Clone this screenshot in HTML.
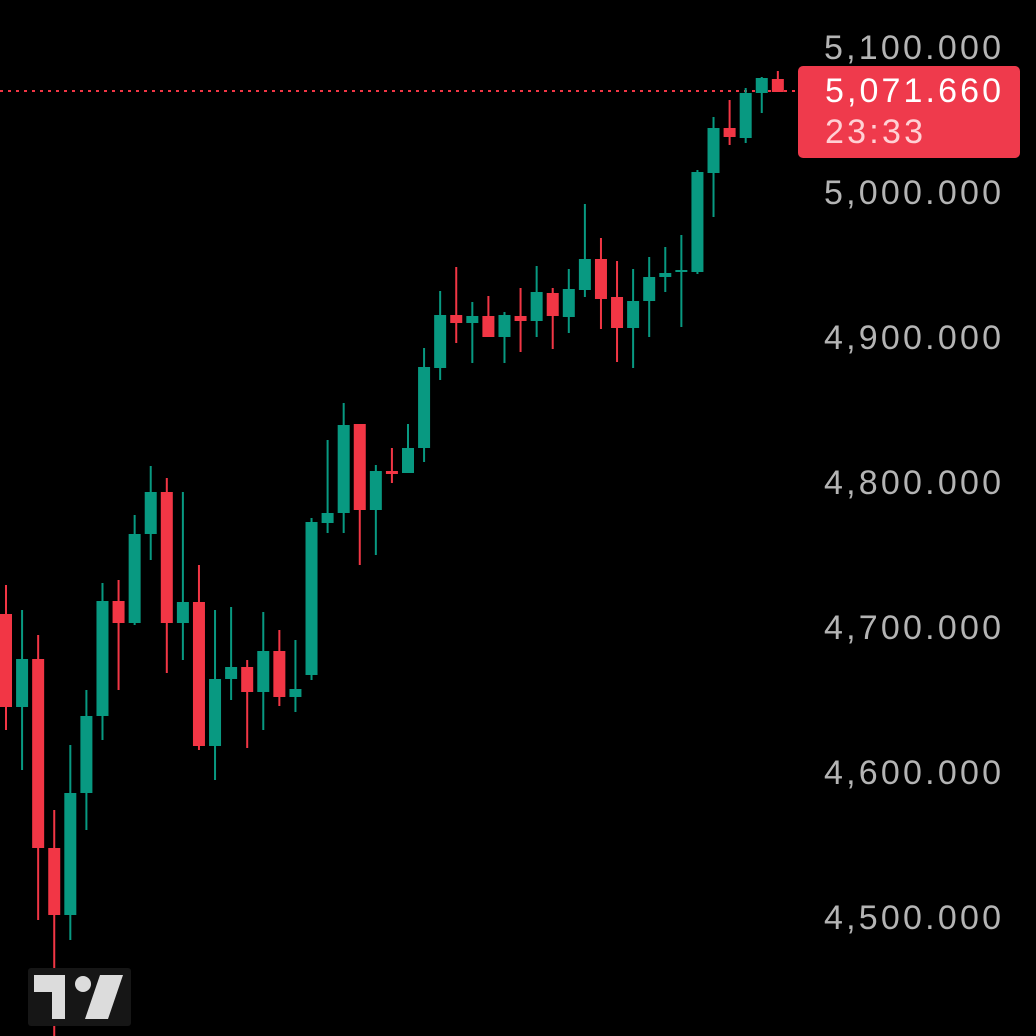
<!DOCTYPE html>
<html><head><meta charset="utf-8"><style>
html,body{margin:0;padding:0;background:#000;}
svg{display:block;}
text{font-family:"Liberation Sans",sans-serif;}
</style></head><body>
<svg width="1036" height="1036" viewBox="0 0 1036 1036" xmlns="http://www.w3.org/2000/svg">
<rect width="1036" height="1036" fill="#000"/>
<line x1="0" y1="91" x2="798" y2="91" stroke="#f23645" stroke-width="2" stroke-dasharray="3,5"/>
<g id="c"></g>
<g fill="#b4b4b4" font-size="34" text-anchor="end">
<text x="1001" y="59" textLength="177">5,100.000</text>
<text x="1001" y="204" textLength="177">5,000.000</text>
<text x="1001" y="349" textLength="177">4,900.000</text>
<text x="1001" y="494" textLength="177">4,800.000</text>
<text x="1001" y="639" textLength="177">4,700.000</text>
<text x="1001" y="784" textLength="177">4,600.000</text>
<text x="1001" y="929" textLength="177">4,500.000</text>
</g>
<rect x="798" y="66" width="222" height="92" rx="5" fill="#ef3a4c"/>
<text x="825" y="102" fill="#fff" font-size="34" textLength="176">5,071.660</text>
<text x="825" y="143" fill="#ffd0d4" font-size="34" textLength="98">23:33</text>
<rect x="28" y="968" width="103" height="58" rx="3" fill="#161616"/>
<path d="M34 975H65V1019H52V992H34Z" fill="#dcdcdc"/>
<circle cx="83" cy="984" r="8" fill="#dcdcdc"/>
<path d="M100 975H123L108 1019H85Z" fill="#dcdcdc"/>
</svg>
<script>
var d=[
['r',614,707,585,730],['g',659,707,610,770],['r',659,848,635,920],['r',848,915,810,1036],
['g',793,915,745,940],['g',716,793,690,830],['g',601,716,583,740],['r',601,623,580,690],
['g',534,623,515,625],['g',492,534,466,560],['r',492,623,478,673],['g',602,623,492,660],
['r',602,746,565,750],['g',679,746,610,780],['g',667,679,607,700],['r',667,692,660,748],
['g',651,692,612,730],['r',651,697,630,706],['g',689,697,640,712],['g',522,675,518,680],
['g',513,523,440,533],['g',425,513,403,533],['r',424,510,424,565],['g',471,510,465,555],
['r',471,474,448,483],['g',448,473,424,473],['g',367,448,348,462],['g',315,368,291,380],
['r',315,323,267,343],['g',316,323,302,363],['r',316,337,296,337],['g',315,337,312,363],
['r',316,321,288,352],['g',292,321,266,337],['r',293,316,288,349],['g',289,317,269,333],
['g',259,290,204,297],['r',259,299,238,329],['r',297,328,261,362],['g',301,328,269,368],
['g',277,301,257,337],['g',273,277,247,292],['g',270,272,235,327],['g',172,272,170,274],
['g',128,173,117,217],['r',128,137,100,145],['g',93,138,88,143],['g',78,93,77,113],['r',79,92,71,92]];
var s='';
d.forEach(function(c,i){var x=6+i*16.08;var col=c[0]=='g'?'#089981':'#f23645';
s+='<rect x="'+(x-1)+'" y="'+c[3]+'" width="2" height="'+(c[4]-c[3])+'" fill="'+col+'"/>';
s+='<rect x="'+(x-6)+'" y="'+c[1]+'" width="12" height="'+Math.max(2,c[2]-c[1])+'" fill="'+col+'"/>';});
document.getElementById('c').innerHTML=s;
</script>
</body></html>
